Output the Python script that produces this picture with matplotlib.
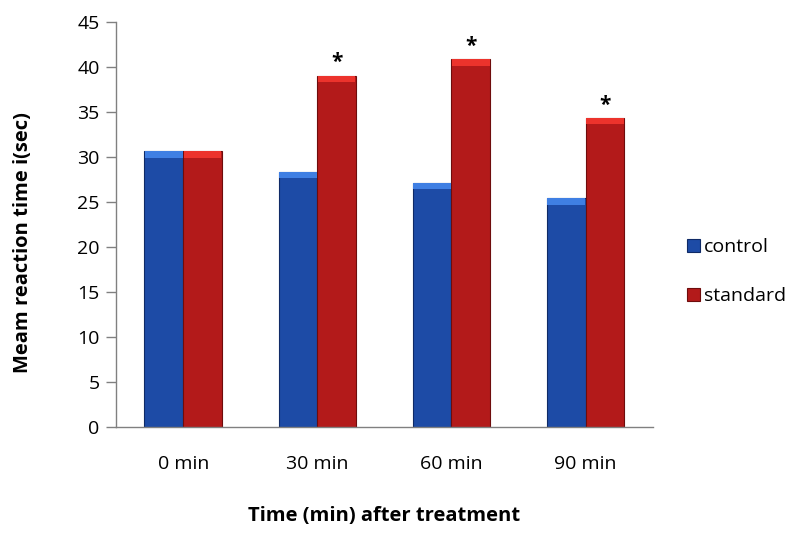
import matplotlib
matplotlib.use("Agg")
import matplotlib.pyplot as plt
import numpy as np

categories = ["0 min", "30 min", "60 min", "90 min"]
control = [30.6, 28.3, 27.1, 25.4]
standard = [30.6, 39.0, 40.85, 34.3]
significant = [False, True, True, True]

plt.rcParams['font.family'] = ['Open Sans', 'DejaVu Sans']

fig = plt.figure(figsize=(7.91, 5.33), dpi=100)
ax = fig.add_axes([0.147, 0.199, 0.678, 0.76])

x = np.arange(len(categories))
w = 0.29
cap = 0.7

cb = ax.bar(x - w/2, control, width=w, color="#1d4ba6", edgecolor="#0f2a66", linewidth=0.8, label="control", zorder=2)
sb = ax.bar(x + w/2, standard, width=w, color="#b31a1a", edgecolor="#6e0c0c", linewidth=0.8, label="standard", zorder=2)
# lighter bevel caps on bar tops
ax.bar(x - w/2, [cap]*len(x), bottom=np.array(control) - cap, width=w*0.96, color="#3f7fe3", linewidth=0, zorder=3)
ax.bar(x + w/2, [cap]*len(x), bottom=np.array(standard) - cap, width=w*0.96, color="#ec332c", linewidth=0, zorder=3)

for xi, s, sig in zip(x, standard, significant):
    if sig:
        ax.text(xi + w/2, s + 0.3, "*", ha="center", va="bottom", fontsize=15, fontweight="bold", color="black")

ax.set_xlim(-0.5, len(categories) - 0.5)
ax.set_ylim(0, 45)
ax.set_yticks(np.arange(0, 46, 5))
ax.set_xticks(x)
ax.set_xticklabels(categories)
ax.tick_params(axis="x", length=0, pad=20, labelsize=14)
ax.tick_params(axis="y", length=7, width=1, color="#808080", direction="out", pad=5, labelsize=14)

for sp in ["top", "right"]:
    ax.spines[sp].set_visible(False)
for sp in ["left", "bottom"]:
    ax.spines[sp].set_color("#808080")
    ax.spines[sp].set_linewidth(1)

ax.set_ylabel("Meam reaction time i(sec)", fontsize=14.5, fontweight="bold")
ax.yaxis.set_label_coords(-0.155, 0.455)
ax.set_xlabel("Time (min) after treatment", fontsize=14.5, fontweight="bold", labelpad=24)

handles = [cb, sb]
fig.legend(handles, ["control", "standard"], loc="center left", bbox_to_anchor=(0.869, 0.49),
           frameon=False, fontsize=14, handlelength=0.65, handleheight=0.65, handletextpad=0.2,
           labelspacing=1.6, borderaxespad=0, borderpad=0)

fig.savefig("out.png", dpi=100)
